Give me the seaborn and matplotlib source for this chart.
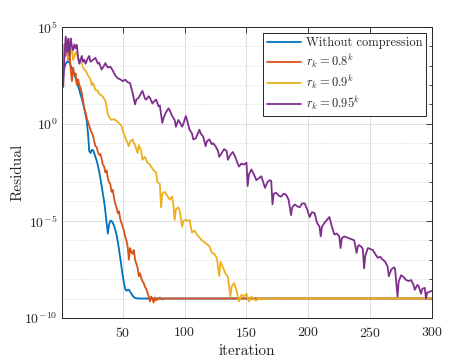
import numpy as np
import pandas as pd
import matplotlib
matplotlib.use("Agg")
import matplotlib.pyplot as plt
import seaborn as sns
from matplotlib.ticker import FixedLocator, NullFormatter

# ---- data (iteration, log10 residual) ----
blue_it = [1,2,3,4,5,6,7,8,9,10,11,12,13,14,15,16,17,18,19,20,21,22,23,24,25,26,27,28,29,30,
           31,32,33,34,35,36,37,38,39,40,41,42,43,44,45,46,47,48,49,50,51,52,53,54,55,56,57,58,59,60,62,300]
blue_lg = [2.3,2.6,2.9,3.1,3.2,3.22,3.15,3.0,2.85,2.7,2.55,2.35,2.15,1.95,1.75,1.5,1.3,1.05,0.8,0.5,
           0.15,-0.5,-1.4,-1.5,-1.35,-1.35,-1.5,-1.7,-1.9,-2.15,-2.45,-2.8,-3.2,-3.6,-4.0,-4.5,-5.1,-5.65,
           -5.2,-5.0,-5.0,-5.1,-5.25,-5.45,-5.7,-6.05,-6.45,-6.9,-7.35,-7.8,-8.2,-8.5,-8.6,-8.55,-8.55,
           -8.65,-8.75,-8.85,-8.93,-8.97,-9.0,-9.0]

orange_it = list(range(1, 81)) + [82, 84, 300]
orange_lg = [2.4,3.4,4.1,3.5,4.3,3.3,3.9,2.8,2.2,2.9,2.5,2.6,2.0,2.3,2.0,1.84,1.6,1.2,0.75,0.6,
             0.3,0.1,-0.1,-0.3,-0.45,-0.6,-0.9,-1.15,-1.2,-1.45,-1.6,-1.55,-1.8,-2.1,-2.2,-2.5,-2.4,
             -2.8,-3.0,-3.1,-3.5,-3.4,-3.8,-4.1,-4.3,-4.6,-4.5,-4.9,-5.1,-5.3,-5.5,-5.8,-6.0,-6.3,-7.0,
             -6.4,-6.6,-6.7,-6.5,-7.0,-7.2,-7.4,-7.85,-7.7,-7.95,-8.1,-8.2,-8.4,-8.5,-8.7,-8.9,-9.15,
             -8.9,-9.05,-9.2,-8.95,-9.1,-9.0,-9.05,-8.95,-9.05,-9.0,-9.0]

yellow_it = [1,2,3,4,5,6,7,8,9,10,11,12,13,14,15,16,17,18,19,20,22,23,24,25,26,28,30,31,33,34,36,37,
             38,39,41,43,45,47,49,50,52,53,55,56,58,59,60,62,63,65,66,68,70,72,74,75,77,78,80,81,82,
             84,86,88,90,91,92,93,95,96,98,99,101,103,104,106,108,110,112,114,116,118,120,122,124,
             126,128,129,131,133,135,137,138,140,142,144,146,148,150,152,154,156,158,160,162,164,166,
             168,171,174,300]
yellow_lg = [2.3,3.3,4.1,3.7,4.3,3.4,4.2,3.6,3.9,3.3,3.5,3.7,3.6,3.4,3.3,3.25,3.1,2.9,2.8,2.75,2.5,
             2.4,2.3,2.0,2.1,1.75,1.7,1.55,1.45,1.4,1.2,0.9,0.5,0.35,0.2,0.25,0.15,0.05,-0.1,-0.3,
             -0.7,-0.85,-1.15,-0.9,-0.8,-1.0,-1.1,-1.5,-1.1,-1.4,-1.85,-1.7,-2.0,-2.1,-2.3,-2.4,-2.5,
             -3.0,-3.1,-4.3,-3.6,-3.5,-3.7,-3.9,-3.75,-4.2,-4.95,-4.4,-4.3,-4.45,-5.3,-5.0,-4.95,-5.0,
             -4.95,-5.6,-5.5,-5.7,-5.85,-6.0,-6.1,-6.2,-6.3,-6.65,-6.7,-6.9,-7.85,-7.1,-7.4,-7.7,-7.9,
             -8.9,-8.4,-8.2,-8.6,-9.15,-8.8,-8.9,-8.75,-9.15,-8.9,-9.05,-9.1,-8.95,-9.05,-8.98,-9.03,
             -9.0,-9.02,-9.0,-9.0]

purple_it = [1,2,3,4,5,6,7,8,9,10,11,12,13,14,15,16,17,18,19,20,22,23,24,26,28,30,31,33,35,36,38,40,
             42,44,46,48,50,52,54,56,58,60,61,63,65,66,68,69,71,72,74,76,77,79,80,82,83,85,87,88,90,
             92,93,95,96,98,99,101,102,104,106,107,109,110,112,113,115,117,118,120,122,123,125,127,
             128,130,132,134,135,137,139,141,142,144,146,148,150,151,152,154,156,158,160,162,163,165,
             167,169,170,171,172,174,176,178,180,182,184,186,187,189,191,193,195,197,199,201,203,205,
             207,209,210,211,213,215,217,219,221,223,225,226,227,229,231,233,235,237,239,240,241,243,
             244,245,246,248,250,252,254,256,258,260,262,264,265,267,269,270,272,273,275,277,279,281,
             283,285,286,288,289,291,292,294,295,296,298,300]
purple_lg = [2.3,1.9,3.6,4.5,3.7,4.4,3.5,4.4,4.0,3.8,4.1,3.9,4.07,3.4,3.1,3.3,3.5,3.2,3.3,3.1,3.4,
             3.5,3.2,3.3,3.4,3.1,3.15,2.8,3.0,3.13,2.9,2.95,2.75,2.5,2.35,2.3,2.2,2.28,2.15,2.1,1.6,
             1.0,1.25,1.35,1.6,1.7,1.3,1.25,1.42,1.35,1.05,1.2,1.25,0.9,0.95,0.05,0.3,0.6,0.8,0.7,0.4,
             0.2,-0.15,0.2,0.1,-0.15,0.0,0.4,0.2,-0.3,-0.5,-0.8,-0.75,-0.6,-0.3,-0.5,-0.65,-1.15,-0.9,
             -0.8,-1.05,-1.0,-1.15,-1.4,-1.7,-1.5,-1.3,-1.4,-1.85,-1.6,-1.45,-1.7,-1.9,-2.2,-2.05,-2.1,
             -2.0,-3.2,-2.6,-2.35,-2.6,-2.9,-2.8,-2.7,-2.9,-3.3,-3.0,-2.9,-2.95,-4.15,-3.6,-3.55,-3.7,
             -3.75,-3.6,-3.65,-3.9,-4.7,-4.3,-4.15,-4.25,-4.3,-4.1,-4.1,-4.4,-4.8,-4.55,-4.6,-5.1,-5.3,
             -5.8,-5.3,-5.1,-4.95,-4.8,-5.3,-5.7,-5.65,-5.8,-6.4,-5.9,-5.8,-5.85,-5.9,-5.95,-6.0,-6.65,
             -6.3,-6.25,-6.35,-6.45,-7.45,-6.8,-6.4,-6.45,-6.5,-6.7,-6.9,-6.85,-7.0,-7.1,-7.35,-7.85,
             -7.5,-7.4,-7.45,-8.9,-8.1,-7.8,-7.9,-8.05,-8.1,-8.05,-8.3,-8.55,-8.3,-8.35,-8.75,-8.5,
             -8.45,-9.0,-8.7,-8.65,-8.6]

labels = ["Without compression", r"$r_k = 0.8^k$", r"$r_k = 0.9^k$", r"$r_k = 0.95^k$"]
colors = ["#0072BD", "#D95319", "#EDB120", "#7E2F8E"]
x_ticks = [50, 100, 150, 200, 250, 300]
y_major = [1e-10, 1e-5, 1e0, 1e5]

frames = []
for lab, its, lg in zip(labels, [blue_it, orange_it, yellow_it, purple_it],
                        [blue_lg, orange_lg, yellow_lg, purple_lg]):
    frames.append(pd.DataFrame({"iteration": its, "Residual": np.power(10.0, lg), "series": lab}))
df = pd.concat(frames, ignore_index=True)

sns.set_theme(style="white")
plt.rcParams["font.family"] = "serif"
plt.rcParams["font.serif"] = ["cmr10", "DejaVu Serif"]
plt.rcParams["mathtext.fontset"] = "cm"
plt.rcParams["axes.formatter.use_mathtext"] = True

fig = plt.figure(figsize=(4.77, 3.58), dpi=100)
ax = fig.add_axes([0.130, 0.112, 0.776, 0.813])

sns.lineplot(data=df, x="iteration", y="Residual", hue="series", hue_order=labels,
             palette=colors, estimator=None, sort=False, linewidth=1.3, ax=ax)
ax.set_yscale("log")
ax.set_xlim(1, 300)
ax.set_ylim(1e-10, 1e5)
ax.set_xticks(x_ticks)
ax.set_yticks(y_major)
ax.yaxis.set_minor_locator(FixedLocator([10.0 ** e for e in range(-10, 6)]))
ax.yaxis.set_minor_formatter(NullFormatter())

ax.grid(True, which="major", axis="both", color="#dedede", linewidth=0.7, linestyle="-")
ax.grid(True, which="minor", axis="y", color="#cfcfcf", linewidth=0.6, linestyle=(0, (1, 2)))
ax.set_axisbelow(True)

for s in ax.spines.values():
    s.set_color("#262626")
    s.set_linewidth(0.7)
ax.tick_params(which="both", direction="in", top=True, right=True, colors="#262626",
               labelsize=10, width=0.6)
ax.tick_params(which="major", length=4)
ax.tick_params(which="minor", length=2.5)
ax.tick_params(axis="x", which="major", pad=6)
ax.tick_params(axis="y", which="major", pad=3)

ax.set_xlabel("iteration", fontsize=11, labelpad=3)
ax.set_ylabel("Residual", fontsize=11, labelpad=0)

leg = ax.legend(loc="upper right", fontsize=9, frameon=True, fancybox=False,
                edgecolor="#262626", framealpha=1, handlelength=2.7, borderaxespad=0.5,
                borderpad=0.3, labelspacing=0.25, handletextpad=0.4)
leg.get_frame().set_linewidth(0.7)

fig.savefig("out.png", dpi=100, facecolor="white")
